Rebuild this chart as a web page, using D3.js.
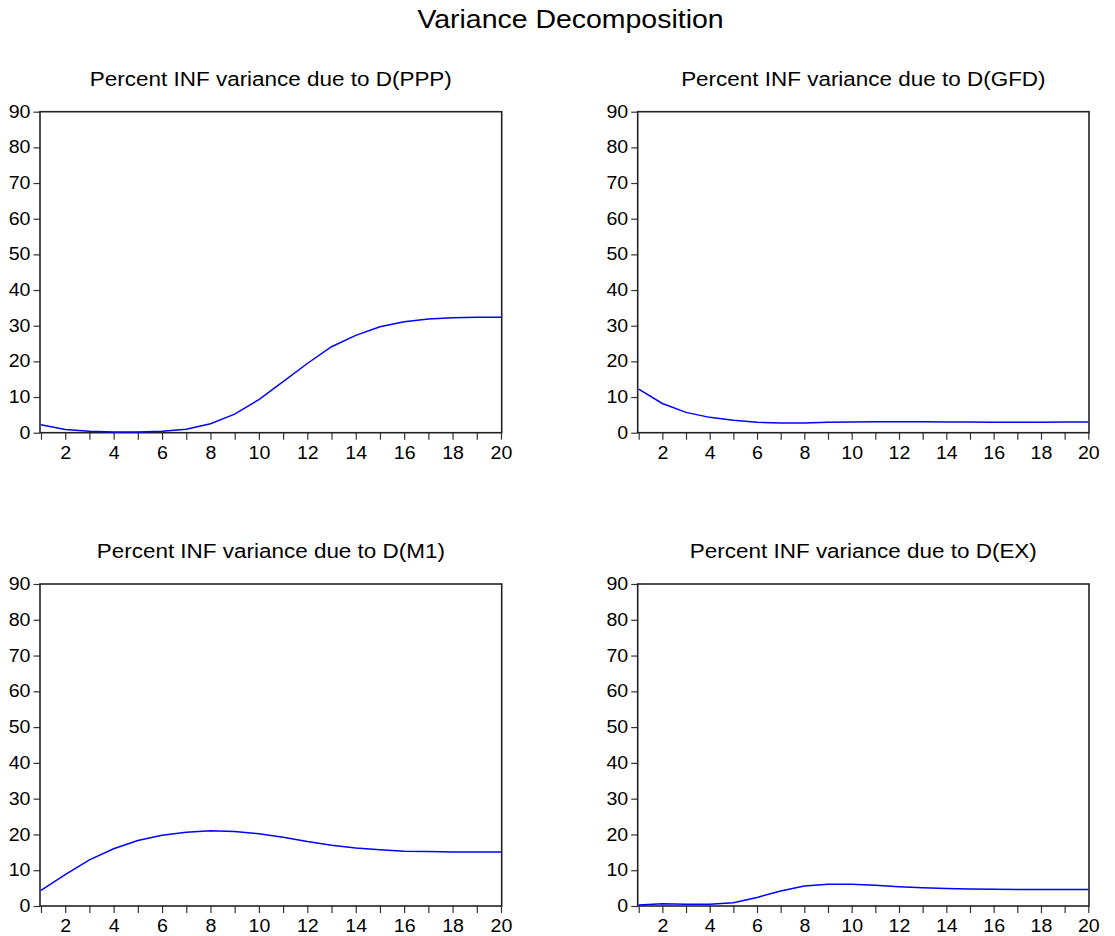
<!DOCTYPE html>
<html>
<head>
<meta charset="utf-8">
<script src="https://cdn.jsdelivr.net/npm/d3@7/dist/d3.min.js"></script>
<style>
  html, body { margin: 0; padding: 0; background: #fff; }
  svg { display: block; font-family: "Liberation Sans", Arial, sans-serif; }
  .ylab { transform-box: fill-box; transform-origin: right center; transform: scaleX(1.12); }
  .xlab { transform-box: fill-box; transform-origin: center center; transform: scaleX(1.12); }
  .ttl  { transform-box: fill-box; transform-origin: center center; transform: scaleX(1.07); }
</style>
</head>
<body>
<svg id="chart" width="1115" height="936"></svg>
<script>
const mainTitle = "Variance Decomposition";
const periods = d3.range(1, 21);
const panelTitles = [
  "Percent INF variance due to D(PPP)",
  "Percent INF variance due to D(GFD)",
  "Percent INF variance due to D(M1)",
  "Percent INF variance due to D(EX)"
];
const pppValues = [2.2, 0.9, 0.4, 0.2, 0.2, 0.4, 1.0, 2.5, 5.2, 9.3, 14.3, 19.4, 24.1, 27.3, 29.7, 31.1, 31.9, 32.2, 32.4, 32.4];
const gfdValues = [12.2, 8.2, 5.7, 4.3, 3.5, 2.9, 2.7, 2.7, 2.9, 3.0, 3.1, 3.1, 3.1, 3.0, 3.0, 2.9, 2.9, 2.9, 3.0, 3.0];
const m1Values  = [4.4, 8.8, 12.9, 16.0, 18.3, 19.8, 20.6, 21.0, 20.8, 20.2, 19.2, 18.0, 17.0, 16.2, 15.7, 15.3, 15.2, 15.1, 15.1, 15.1];
const exValues  = [0.3, 0.6, 0.5, 0.5, 0.9, 2.4, 4.2, 5.6, 6.1, 6.1, 5.8, 5.4, 5.1, 4.9, 4.75, 4.7, 4.6, 4.6, 4.6, 4.6];
const yTicks = [0, 10, 20, 30, 40, 50, 60, 70, 80, 90];
const xLabelTicks = [2, 4, 6, 8, 10, 12, 14, 16, 18, 20];

const seriesList = [pppValues, gfdValues, m1Values, exValues];

const svg = d3.select("#chart");

svg.append("text")
  .attr("class", "ttl")
  .attr("x", 570.5).attr("y", 28.5)
  .attr("text-anchor", "middle")
  .attr("font-size", 26.6)
  .attr("fill", "#000")
  .text(mainTitle);

const boxes = [
  { l: 40, r: 501.7, t: 111.7, b: 432.7 },
  { l: 637.7, r: 1089, t: 111.7, b: 432.7 },
  { l: 40, r: 501.7, t: 584, b: 906 },
  { l: 637.7, r: 1089, t: 584, b: 906 }
];

boxes.forEach((bx, i) => {
  const g = svg.append("g");
  const x = d3.scaleLinear().domain([1, 20]).range([bx.l + 1, bx.r - 0.7]);
  const y = d3.scaleLinear().domain([0, 90]).range([bx.b, bx.t]);

  g.append("text")
    .attr("class", "ttl")
    .attr("x", (bx.l + bx.r) / 2)
    .attr("y", bx.t - 25.8)
    .attr("text-anchor", "middle")
    .attr("font-size", 21)
    .attr("fill", "#000")
    .text(panelTitles[i]);

  const yAxis = g.append("g")
    .attr("transform", `translate(${bx.l},0)`)
    .call(d3.axisLeft(y).tickValues(yTicks).tickSize(6.5).tickPadding(3).tickSizeOuter(0));
  yAxis.select(".domain").remove();
  yAxis.selectAll(".tick line").attr("stroke", "#333").attr("stroke-width", 1.2);
  yAxis.selectAll(".tick text")
    .attr("class", "ylab")
    .attr("font-size", 17.5)
    .attr("font-family", "Liberation Sans, Arial, sans-serif")
    .attr("fill", "#000");

  const xAxis = g.append("g")
    .attr("transform", `translate(0,${bx.b})`)
    .call(d3.axisBottom(x).tickValues(periods).tickSize(7).tickPadding(7).tickSizeOuter(0)
      .tickFormat(d => xLabelTicks.includes(d) ? String(d) : ""));
  xAxis.select(".domain").remove();
  xAxis.selectAll(".tick line").attr("stroke", "#333").attr("stroke-width", 1.2);
  xAxis.selectAll(".tick text")
    .attr("class", "xlab")
    .attr("font-size", 17.5)
    .attr("font-family", "Liberation Sans, Arial, sans-serif")
    .attr("fill", "#000");

  g.append("rect")
    .attr("x", bx.l).attr("y", bx.t)
    .attr("width", bx.r - bx.l).attr("height", bx.b - bx.t)
    .attr("fill", "none")
    .attr("stroke", "#222")
    .attr("stroke-width", 1.6);

  const line = d3.line()
    .x((d, j) => x(periods[j]))
    .y(d => y(d));

  g.append("path")
    .datum(seriesList[i])
    .attr("d", line)
    .attr("fill", "none")
    .attr("stroke", "#0000ff")
    .attr("stroke-width", 1.5);
});
</script>
</body>
</html>
